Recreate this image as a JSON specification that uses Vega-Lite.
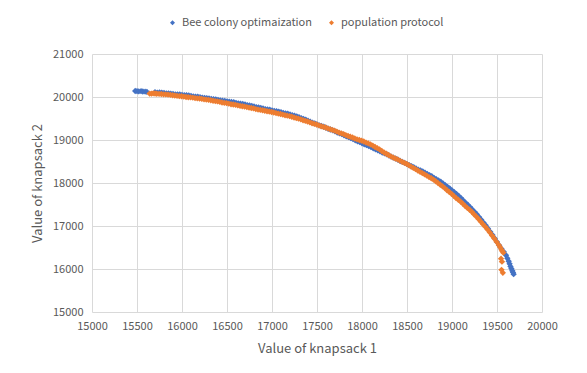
{
  "$schema": "https://vega.github.io/schema/vega-lite/v6.json",
  "width": 450,
  "height": 258,
  "autosize": "none",
  "padding": {"left": 92, "top": 54, "right": 45, "bottom": 61},
  "background": "white",
  "config": {
    "font": "Noto Sans CJK JP",
    "view": {"stroke": null}
  },
  "datasets": {
    "bee": [
      {"x":15480,"y":20140},{"x":15500,"y":20135},{"x":15520,"y":20130},{"x":15545,"y":20135},{"x":15565,"y":20128},{"x":15590,"y":20125},{"x":15610,"y":20120},
      {"x":15700,"y":20110},{"x":15725,"y":20100},{"x":15750,"y":20105},{"x":15775,"y":20103},{"x":15800,"y":20095},{"x":15825,"y":20085},{"x":15850,"y":20085},{"x":15875,"y":20080},
      {"x":15900,"y":20070},{"x":15925,"y":20062},{"x":15950,"y":20060},{"x":15975,"y":20058},{"x":16000,"y":20050},{"x":16025,"y":20040},{"x":16050,"y":20040},{"x":16075,"y":20035},
      {"x":16100,"y":20025},{"x":16125,"y":20012},{"x":16150,"y":20010},{"x":16175,"y":20005},{"x":16200,"y":19995},{"x":16225,"y":19985},{"x":16250,"y":19980},{"x":16275,"y":19975},
      {"x":16300,"y":19965},{"x":16325,"y":19955},{"x":16350,"y":19950},{"x":16375,"y":19945},{"x":16400,"y":19935},{"x":16425,"y":19922},{"x":16450,"y":19915},{"x":16475,"y":19910},
      {"x":16500,"y":19900},{"x":16525,"y":19890},{"x":16550,"y":19885},{"x":16575,"y":19878},{"x":16600,"y":19865},{"x":16625,"y":19852},{"x":16650,"y":19845},{"x":16675,"y":19840},
      {"x":16700,"y":19825},{"x":16725,"y":19812},{"x":16750,"y":19805},{"x":16775,"y":19795},{"x":16800,"y":19780},{"x":16825,"y":19765},{"x":16850,"y":19755},{"x":16875,"y":19748},
      {"x":16900,"y":19735},{"x":16925,"y":19720},{"x":16950,"y":19712},{"x":16975,"y":19705},{"x":17000,"y":19690},{"x":17025,"y":19676},{"x":17050,"y":19668},{"x":17075,"y":19660},
      {"x":17100,"y":19645},{"x":17125,"y":19630},{"x":17150,"y":19620},{"x":17175,"y":19610},{"x":17200,"y":19595},{"x":17225,"y":19578},{"x":17250,"y":19565},{"x":17275,"y":19550},
      {"x":17300,"y":19530},{"x":17325,"y":19508},{"x":17350,"y":19490},{"x":17375,"y":19472},{"x":17400,"y":19450},{"x":17425,"y":19425},{"x":17450,"y":19405},{"x":17475,"y":19388},
      {"x":17500,"y":19365},{"x":17525,"y":19342},{"x":17550,"y":19325},{"x":17575,"y":19308},{"x":17600,"y":19285},{"x":17625,"y":19262},{"x":17650,"y":19245},{"x":17675,"y":19225},
      {"x":17700,"y":19200},{"x":17725,"y":19175},{"x":17750,"y":19155},{"x":17775,"y":19135},{"x":17800,"y":19110},{"x":17825,"y":19085},{"x":17850,"y":19065},{"x":17875,"y":19045},
      {"x":17900,"y":19020},{"x":17925,"y":18992},{"x":17950,"y":18970},{"x":17975,"y":18950},{"x":18000,"y":18925},{"x":18025,"y":18900},{"x":18050,"y":18880},{"x":18075,"y":18860},
      {"x":18100,"y":18835},{"x":18125,"y":18808},{"x":18150,"y":18785},{"x":18175,"y":18762},{"x":18200,"y":18735},{"x":18225,"y":18710},{"x":18250,"y":18690},{"x":18275,"y":18668},
      {"x":18300,"y":18640},{"x":18325,"y":18612},{"x":18350,"y":18590},{"x":18375,"y":18568},{"x":18400,"y":18540},{"x":18425,"y":18512},{"x":18450,"y":18490},{"x":18475,"y":18468},
      {"x":18500,"y":18440},{"x":18525,"y":18412},{"x":18550,"y":18390},{"x":18575,"y":18368},{"x":18600,"y":18340},{"x":18625,"y":18312},{"x":18650,"y":18290},{"x":18675,"y":18268},
      {"x":18700,"y":18240},{"x":18725,"y":18210},{"x":18750,"y":18185},{"x":18775,"y":18158},{"x":18800,"y":18120},{"x":18825,"y":18088},{"x":18850,"y":18060},{"x":18875,"y":18030},
      {"x":18900,"y":17990},{"x":18925,"y":17948},{"x":18950,"y":17910},{"x":18975,"y":17875},{"x":19000,"y":17830},{"x":19025,"y":17785},{"x":19050,"y":17745},{"x":19075,"y":17700},
      {"x":19100,"y":17650},{"x":19125,"y":17595},{"x":19150,"y":17540},{"x":19175,"y":17495},{"x":19200,"y":17440},{"x":19225,"y":17385},{"x":19250,"y":17330},{"x":19275,"y":17275},
      {"x":19300,"y":17210},{"x":19325,"y":17145},{"x":19350,"y":17080},{"x":19375,"y":17015},{"x":19400,"y":16940},{"x":19425,"y":16865},{"x":19450,"y":16790},{"x":19475,"y":16712},
      {"x":19500,"y":16630},{"x":19525,"y":16548},{"x":19550,"y":16470},{"x":19575,"y":16400},{"x":19600,"y":16320},{"x":19615,"y":16250},{"x":19630,"y":16180},{"x":19640,"y":16120},
      {"x":19650,"y":16060},{"x":19660,"y":16010},{"x":19670,"y":15960},{"x":19678,"y":15920},{"x":19685,"y":15880}
    ],
    "pop": [
      {"x":15640,"y":20080},{"x":15660,"y":20078},{"x":15680,"y":20085},{"x":15700,"y":20082},{"x":15720,"y":20075},{"x":15745,"y":20072},{"x":15770,"y":20070},{"x":15795,"y":20063},
      {"x":15820,"y":20060},{"x":15845,"y":20055},{"x":15870,"y":20050},{"x":15895,"y":20040},{"x":15920,"y":20035},{"x":15945,"y":20028},{"x":15970,"y":20020},{"x":15995,"y":20018},
      {"x":16020,"y":20010},{"x":16045,"y":20000},{"x":16070,"y":19995},{"x":16095,"y":19992},{"x":16120,"y":19985},{"x":16145,"y":19975},{"x":16170,"y":19970},{"x":16195,"y":19965},
      {"x":16220,"y":19955},{"x":16245,"y":19945},{"x":16270,"y":19940},{"x":16295,"y":19935},{"x":16320,"y":19925},{"x":16345,"y":19912},{"x":16370,"y":19905},{"x":16395,"y":19898},
      {"x":16420,"y":19885},{"x":16445,"y":19872},{"x":16470,"y":19865},{"x":16495,"y":19858},{"x":16520,"y":19845},{"x":16545,"y":19832},{"x":16570,"y":19825},{"x":16595,"y":19818},
      {"x":16620,"y":19805},{"x":16645,"y":19792},{"x":16670,"y":19785},{"x":16695,"y":19778},{"x":16720,"y":19765},{"x":16745,"y":19752},{"x":16770,"y":19745},{"x":16795,"y":19735},
      {"x":16820,"y":19720},{"x":16845,"y":19708},{"x":16870,"y":19700},{"x":16895,"y":19692},{"x":16920,"y":19680},{"x":16945,"y":19668},{"x":16970,"y":19660},{"x":16995,"y":19652},
      {"x":17020,"y":19640},{"x":17045,"y":19626},{"x":17070,"y":19615},{"x":17095,"y":19605},{"x":17120,"y":19590},{"x":17145,"y":19576},{"x":17170,"y":19565},{"x":17195,"y":19555},
      {"x":17220,"y":19540},{"x":17245,"y":19523},{"x":17270,"y":19510},{"x":17295,"y":19497},{"x":17320,"y":19480},{"x":17345,"y":19460},{"x":17370,"y":19445},{"x":17395,"y":19430},
      {"x":17420,"y":19410},{"x":17445,"y":19390},{"x":17470,"y":19375},{"x":17495,"y":19360},{"x":17520,"y":19340},{"x":17545,"y":19320},{"x":17570,"y":19305},{"x":17595,"y":19290},
      {"x":17620,"y":19270},{"x":17645,"y":19250},{"x":17670,"y":19235},{"x":17695,"y":19218},{"x":17720,"y":19195},{"x":17745,"y":19172},{"x":17770,"y":19155},{"x":17795,"y":19138},
      {"x":17820,"y":19115},{"x":17845,"y":19093},{"x":17870,"y":19075},{"x":17895,"y":19058},{"x":17920,"y":19035},{"x":17945,"y":19015},{"x":17970,"y":19000},{"x":17995,"y":18985},
      {"x":18020,"y":18965},{"x":18045,"y":18940},{"x":18070,"y":18920},{"x":18095,"y":18898},{"x":18120,"y":18870},{"x":18145,"y":18838},{"x":18170,"y":18810},{"x":18195,"y":18780},
      {"x":18220,"y":18745},{"x":18245,"y":18710},{"x":18270,"y":18680},{"x":18295,"y":18652},{"x":18320,"y":18620},{"x":18345,"y":18593},{"x":18370,"y":18570},{"x":18395,"y":18548},
      {"x":18420,"y":18520},{"x":18445,"y":18492},{"x":18470,"y":18470},{"x":18495,"y":18445},{"x":18520,"y":18415},{"x":18545,"y":18380},{"x":18570,"y":18350},{"x":18595,"y":18322},
      {"x":18620,"y":18290},{"x":18645,"y":18258},{"x":18670,"y":18230},{"x":18695,"y":18202},{"x":18720,"y":18170},{"x":18745,"y":18138},{"x":18770,"y":18110},{"x":18795,"y":18078},
      {"x":18820,"y":18040},{"x":18845,"y":17998},{"x":18870,"y":17960},{"x":18895,"y":17922},{"x":18920,"y":17880},{"x":18945,"y":17832},{"x":18970,"y":17790},{"x":18995,"y":17748},
      {"x":19020,"y":17700},{"x":19045,"y":17652},{"x":19070,"y":17610},{"x":19095,"y":17568},{"x":19120,"y":17520},{"x":19145,"y":17468},{"x":19170,"y":17420},{"x":19195,"y":17378},
      {"x":19220,"y":17330},{"x":19245,"y":17272},{"x":19270,"y":17220},{"x":19295,"y":17162},{"x":19320,"y":17100},{"x":19345,"y":17038},{"x":19370,"y":16980},{"x":19395,"y":16918},
      {"x":19420,"y":16850},{"x":19445,"y":16778},{"x":19470,"y":16710},{"x":19495,"y":16632},{"x":19520,"y":16560},{"x":19535,"y":16505},{"x":19550,"y":16450},{"x":19560,"y":16415},
      {"x":19570,"y":16380},{"x":19545,"y":16240},{"x":19555,"y":16170},{"x":19550,"y":15980},{"x":19565,"y":15910}
    ]
  },
  "layer": [
    {
      "data": {"name": "bee"},
      "transform": [{"calculate": "'Bee colony optimaization'", "as": "s"}],
      "mark": {"type": "point", "shape": "diamond", "filled": true, "size": 40, "opacity": 1},
      "encoding": {
        "x": {"field": "x", "type": "quantitative"},
        "y": {"field": "y", "type": "quantitative"},
        "color": {"field": "s", "type": "nominal"}
      }
    },
    {
      "data": {"name": "pop"},
      "transform": [{"calculate": "'population protocol'", "as": "s"}],
      "mark": {"type": "point", "shape": "diamond", "filled": true, "size": 40, "opacity": 1},
      "encoding": {
        "x": {"field": "x", "type": "quantitative"},
        "y": {"field": "y", "type": "quantitative"},
        "color": {"field": "s", "type": "nominal"}
      }
    }
  ],
  "encoding": {
    "x": {
      "field": "x", "type": "quantitative",
      "scale": {"domain": [15000, 20000], "nice": false, "zero": false},
      "axis": {
        "title": "Value of knapsack 1", "format": "d", "labelOverlap": false, "labelFlush": false,
        "values": [15000,15500,16000,16500,17000,17500,18000,18500,19000,19500,20000],
        "grid": true, "gridColor": "#d9d9d9", "domain": false, "ticks": false,
        "labelColor": "#595959", "labelFontSize": 11, "labelPadding": 8,
        "titleColor": "#595959", "titleFontSize": 13, "titleFontWeight": "normal", "titlePadding": 11
      }
    },
    "y": {
      "field": "y", "type": "quantitative",
      "scale": {"domain": [15000, 21000], "nice": false, "zero": false},
      "axis": {
        "title": "Value of knapsack 2", "format": "d", "labelFlush": false,
        "values": [15000,16000,17000,18000,19000,20000,21000],
        "grid": true, "gridColor": "#d9d9d9", "domain": false, "ticks": false,
        "labelColor": "#595959", "labelFontSize": 11, "labelPadding": 9,
        "titleColor": "#595959", "titleFontSize": 13, "titleFontWeight": "normal", "titlePadding": 8
      }
    },
    "color": {
      "field": "s", "type": "nominal",
      "scale": {"domain": ["Bee colony optimaization", "population protocol"], "range": ["#4472C4", "#ED7D31"]},
      "legend": {
        "title": null, "orient": "none", "direction": "horizontal",
        "legendX": 75, "legendY": -37,
        "symbolType": "diamond", "symbolSize": 25, "symbolStrokeWidth": 0,
        "labelColor": "#595959", "labelFontSize": 11, "columnPadding": 14, "labelOffset": 4
      }
    }
  }
}
